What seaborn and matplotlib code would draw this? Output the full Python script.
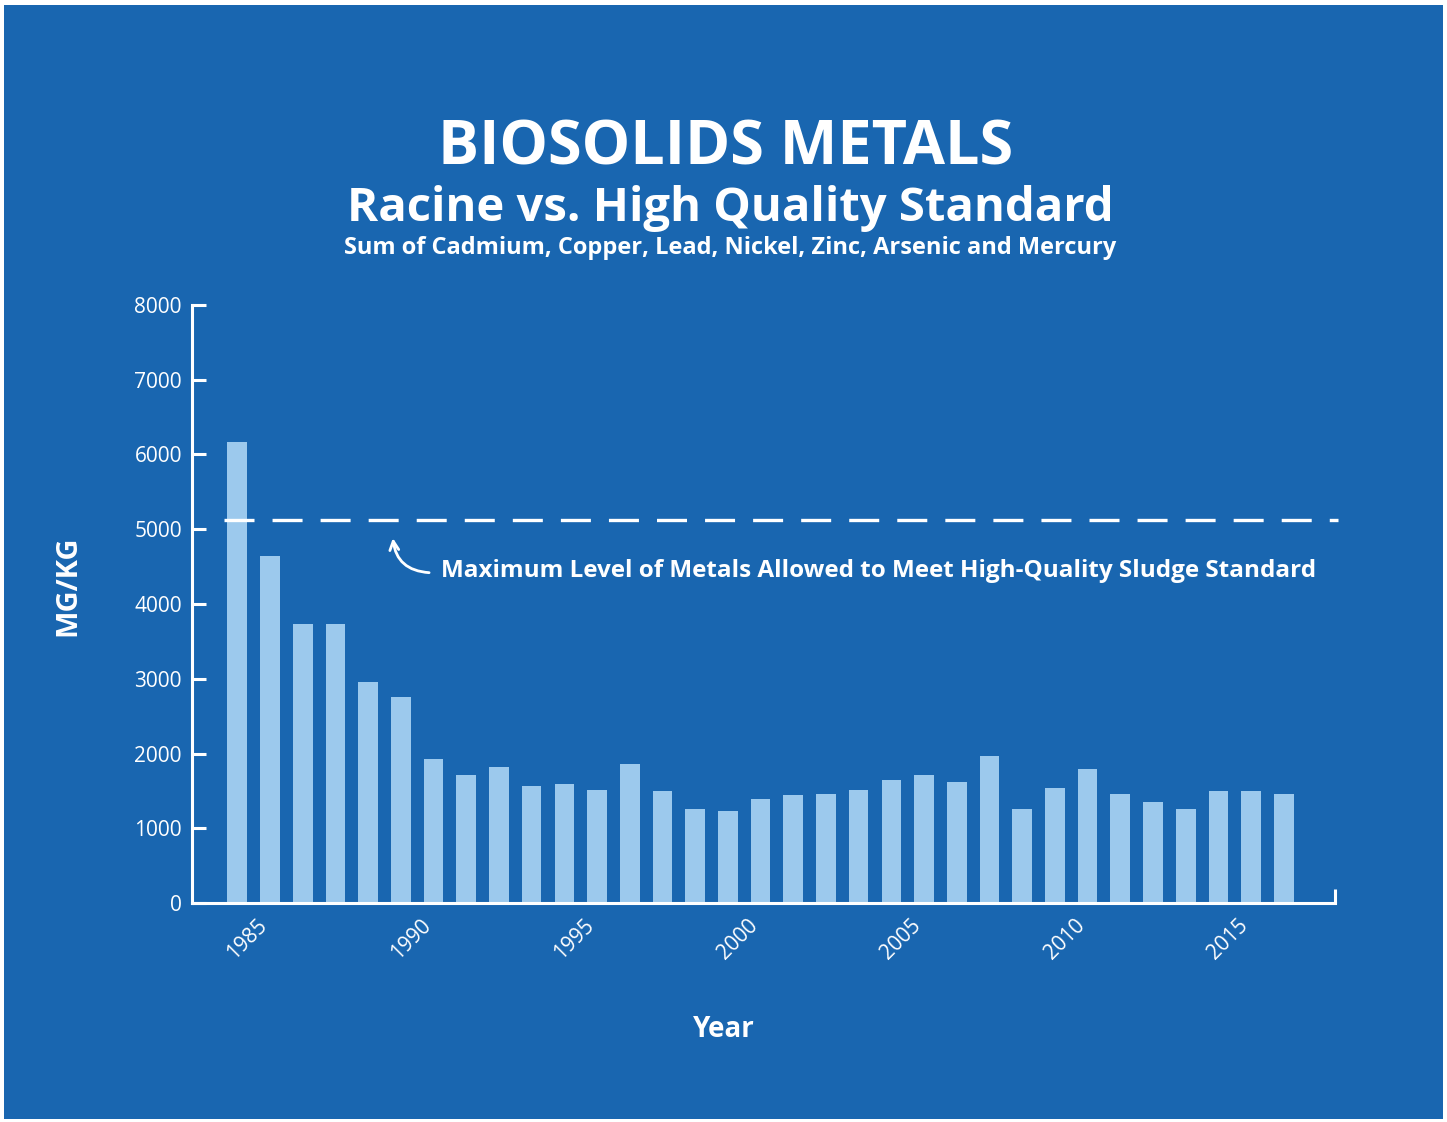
import matplotlib
matplotlib.use("Agg")
import matplotlib.pyplot as plt
import matplotlib.transforms as mtransforms
import seaborn as sns
import pandas as pd
from matplotlib.patches import Rectangle

# ---- data ----
years = list(range(1984, 2017))
metals_mgkg = [6160, 4640, 3730, 3730, 2955, 2755, 1935, 1710, 1820, 1565, 1595,
               1515, 1860, 1505, 1265, 1230, 1390, 1450, 1465, 1510, 1645, 1710,
               1620, 1965, 1265, 1535, 1800, 1460, 1355, 1265, 1505, 1500, 1460]
standard_limit = 5117
year_ticks = [1985, 1990, 1995, 2000, 2005, 2010, 2015]
y_ticks = [0, 1000, 2000, 3000, 4000, 5000, 6000, 7000, 8000]

title = "BIOSOLIDS METALS"
subtitle = "Racine vs. High Quality Standard"
subsubtitle = "Sum of Cadmium, Copper, Lead, Nickel, Zinc, Arsenic and Mercury"
note = "Maximum Level of Metals Allowed to Meet High-Quality Sludge Standard"

BG = "#1966B0"
BAR = "#9CC9ED"
FONT = ["Open Sans", "DejaVu Sans"]

sns.set_theme(style="white")
plt.rcParams["font.family"] = FONT
plt.rcParams["lines.scale_dashes"] = False

df = pd.DataFrame({"year": years, "value": metals_mgkg})

W, H = 1447, 1122
fig = plt.figure(figsize=(W / 100, H / 100), dpi=100, facecolor="white")
fig.patches.append(Rectangle((4 / W, 1 - 1119 / H), (1443 - 4) / W, (1119 - 5) / H,
                             transform=fig.transFigure, facecolor=BG, edgecolor="none", zorder=-10))

left, right, top, bottom = 191.7, 1334.5, 304.7, 903.3
ax = fig.add_axes([left / W, 1 - bottom / H, (right - left) / W, (bottom - top) / H])
ax.set_facecolor("none")

sns.barplot(data=df, x="year", y="value", native_scale=True, color=BAR,
            saturation=1, width=0.6, ax=ax, edgecolor="none")

ax.set_xlim(1984 - 1.394, 2017.55)
ax.set_ylim(0, 8000)

for s in ["top", "right"]:
    ax.spines[s].set_visible(False)
for s in ["left", "bottom"]:
    ax.spines[s].set_color("white")
    ax.spines[s].set_linewidth(2.2)

ax.set_yticks(y_ticks)
ax.set_yticklabels([str(v) for v in y_ticks], color="white", fontsize=15, fontweight="medium")
ax.tick_params(axis="y", direction="in", length=10, width=2.2, color="white", pad=7, left=True)

ax.set_xticks(year_ticks)
ax.set_xticklabels([str(v) for v in year_ticks], rotation=45, ha="right", va="center",
                   rotation_mode="anchor", color="white", fontsize=15, fontweight="medium")
ax.tick_params(axis="x", length=0, pad=14, bottom=True)
shift = mtransforms.ScaledTranslation(-6 / 100, 0, fig.dpi_scale_trans)
for lab in ax.get_xticklabels():
    lab.set_transform(lab.get_transform() + shift)
# small end tick on right end of x-axis
ax.set_xticks([2017.55], minor=True)
ax.tick_params(axis="x", which="minor", direction="in", length=10, width=2.2, color="white", bottom=True)

ax.set_xlabel("")
ax.set_ylabel("")

# standard line
ax.plot([1983.59, 2017.66], [standard_limit, standard_limit], color="white", lw=2.4,
        dashes=(21.6, 13), clip_on=False, zorder=5)

ax.annotate("", xy=(1988.75, standard_limit - 200), xytext=(1989.95, standard_limit - 700),
            arrowprops=dict(arrowstyle="->", color="white", lw=2, mutation_scale=16,
                            connectionstyle="arc3,rad=-0.45"))
fig.text(441 / W, 1 - 577 / H, note, color="white", fontsize=17.5, fontweight="bold",
         va="baseline", ha="left")

# titles
fig.text(726 / W, 1 - 164 / H, title, color="white", fontsize=44, fontweight="bold",
         ha="center", va="baseline")
fig.text(730 / W, 1 - 221 / H, subtitle, color="white", fontsize=34, fontweight="bold",
         ha="center", va="baseline")
fig.text(730 / W, 1 - 254 / H, subsubtitle, color="white", fontsize=17, fontweight="bold",
         ha="center", va="baseline")

fig.text(67.5 / W, 1 - 586 / H, "MG/KG", color="white", fontsize=21, fontweight="bold",
         rotation=90, ha="center", va="center")
fig.text(724 / W, 1 - 1037 / H, "Year", color="white", fontsize=20, fontweight="bold",
         ha="center", va="baseline")

fig.savefig("out.png", dpi=100, facecolor="white")
